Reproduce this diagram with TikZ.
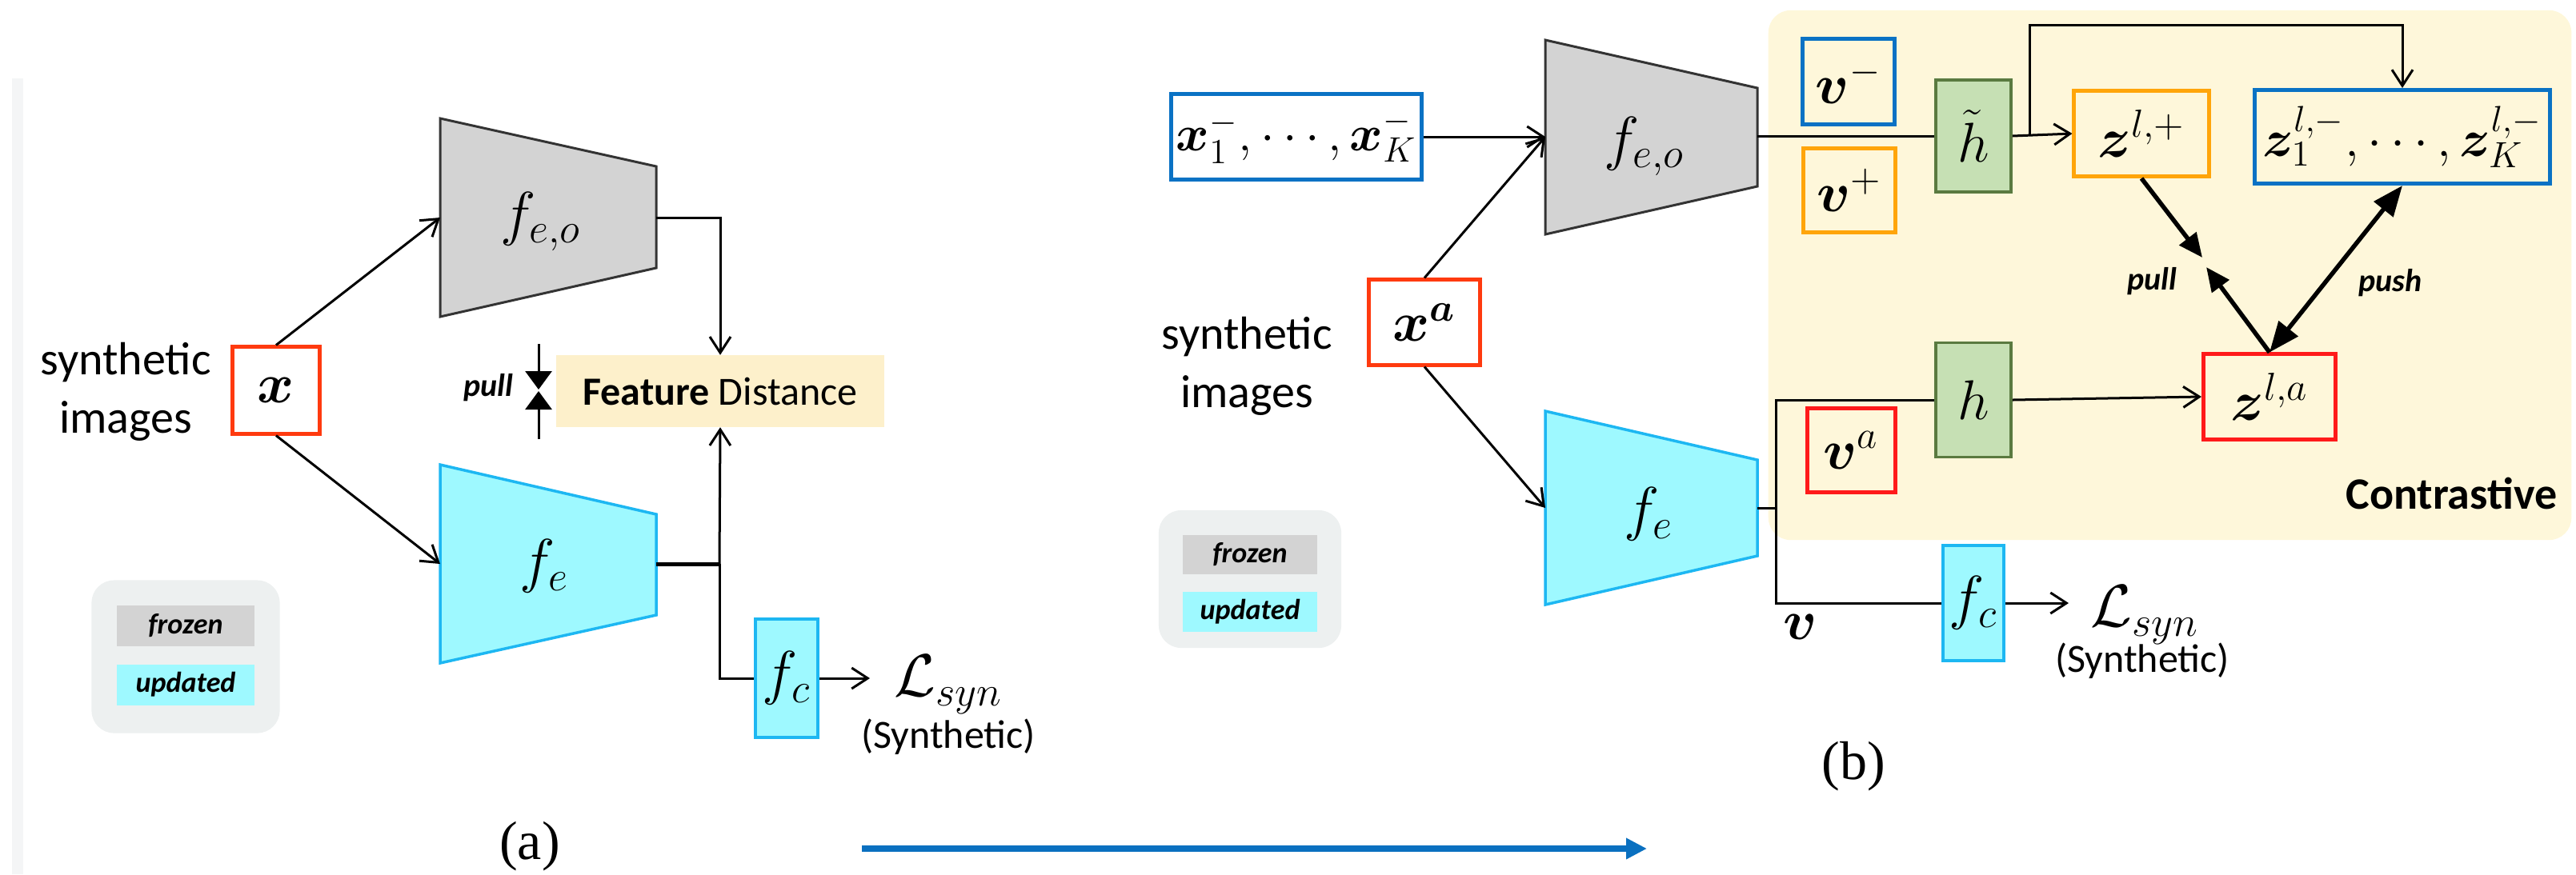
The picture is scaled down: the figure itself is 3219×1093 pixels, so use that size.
\RequirePackage{fix-cm}
\documentclass[tikz,border=0pt]{standalone}
\usepackage{bm}
\usepackage[no-math]{fontspec}
\setmainfont{Carlito}
\newfontfamily\capfont{Liberation Serif}
\usetikzlibrary{arrows.meta}
\definecolor{frozengray}{HTML}{D3D3D3}
\definecolor{trapedge}{HTML}{333333}
\definecolor{cyanfill}{HTML}{9EF9FF}
\definecolor{cyanedge}{HTML}{1DB7F2}
\definecolor{redorange}{HTML}{FF3A0F}
\definecolor{purered}{HTML}{FF1A1A}
\definecolor{boxblue}{HTML}{0A72C4}
\definecolor{boxorange}{HTML}{FFA50A}
\definecolor{greenfill}{HTML}{C6E0B4}
\definecolor{greenedge}{HTML}{5A7A40}
\definecolor{contrbg}{HTML}{FEF7DA}
\definecolor{fdbg}{HTML}{FDF0CB}
\definecolor{legbg}{HTML}{EDF0F0}
\definecolor{arrowblue}{HTML}{0A70C0}
\definecolor{faintline}{HTML}{F4F5F6}
\tikzset{
  mathlbl/.style={inner sep=0pt, font=\fontsize{0.75cm}{0.9cm}\selectfont},
  boxtxt/.style={inner sep=0pt, font=\fontsize{0.7cm}{0.85cm}\selectfont},
  colbox/.style={draw=#1, line width=0.05cm, inner sep=0pt, boxtxt},
  greenbox/.style={draw=greenedge, fill=greenfill, line width=0.035cm, inner sep=0pt, minimum width=0.94cm, boxtxt},
  cyanbox/.style={draw=cyanedge, fill=cyanfill, line width=0.04cm, inner sep=0pt, mathlbl},
  trapgray/.style={fill=frozengray, draw=trapedge, line width=0.03cm},
  trapcyan/.style={fill=cyanfill, draw=cyanedge, line width=0.035cm},
  conn/.style={line width=0.03cm},
  thinarr/.style={line width=0.03cm, -{Straight Barb[length=0.2cm,width=0.26cm]}},
  pullarr/.style={line width=0.055cm, -{Triangle[length=0.3cm,width=0.26cm]}},
  pusharr/.style={line width=0.055cm, {Triangle[length=0.38cm,width=0.3cm]}-{Triangle[length=0.38cm,width=0.3cm]}},
  smallpull/.style={line width=0.03cm, -{Triangle[length=0.23cm,width=0.33cm]}},
  sanstxt/.style={inner sep=0pt, align=center, font=\fontsize{0.58cm}{0.73cm}\selectfont},
  labtxt/.style={inner sep=0pt, font=\fontsize{0.4cm}{0.5cm}\selectfont\bfseries\itshape},
  legbox/.style={fill=legbg, rounded corners=0.28cm, inner sep=0pt},
  legitem/.style={fill=#1, inner sep=0pt, minimum width=1.72cm, minimum height=0.51cm, font=\fontsize{0.36cm}{0.44cm}\selectfont\bfseries\itshape},
  captxt/.style={inner sep=0pt, font=\fontsize{0.68cm}{0.8cm}\selectfont\capfont},
  syntxt/.style={inner sep=0pt, font=\fontsize{0.5cm}{0.6cm}\selectfont},
}
\begin{document}
\begin{tikzpicture}[x=0.01cm,y=-0.01cm]
\useasboundingbox (0,0) rectangle (3219,1093);
\fill[faintline] (15,98) rectangle (29,1093);

% ================= Panel (a) =================
\node[legbox, minimum width=2.35cm, minimum height=1.91cm] (legA) at (232,821) {};
\node[legitem=frozengray] (frzA) at (232,782) {frozen};
\node[legitem=cyanfill] (updA) at (232,856) {updated};

\draw[trapgray] (550,148) -- (820,208) -- (820,335) -- (550,396) -- cycle;
\node[mathlbl] (feoA) at (676,277) {$f_{e,o}$};
\coordinate (feoAin) at (550,272);
\coordinate (feoAout) at (820,272);

\draw[trapcyan] (550,581) -- (820,643) -- (820,769) -- (550,829) -- cycle;
\node[mathlbl] (feA) at (680,708) {$f_e$};
\coordinate (feAin) at (550,705);
\coordinate (feAout) at (820,705);

\node[colbox=redorange, minimum width=1.08cm, minimum height=1.08cm] (xA) at (345,488) {$\bm{x}$};
\node[sanstxt] (synA) at (157,490) {synthetic\\images};

\draw[thinarr] (xA.north) -- (feoAin);
\draw[thinarr] (xA.south) -- (feAin);

\node[fill=fdbg, inner sep=0pt, minimum width=4.09cm, minimum height=0.89cm,
      font=\fontsize{0.5cm}{0.6cm}\selectfont] (fdA) at (900,489) {\textbf{Feature} Distance};
\draw[thinarr] (feoAout) -| (fdA.north);

\coordinate (jA) at (899,705);
\draw[line width=0.05cm] (feAout) -- (jA);
\draw[thinarr] (jA) -- (fdA.south);

\node[cyanbox, minimum width=0.78cm, minimum height=1.47cm] (fcA) at (983,848) {$f_c$};
\draw[conn] (jA) |- (fcA.west);
\coordinate (LAtip) at (1087,848);
\draw[thinarr] (fcA.east) -- (LAtip);
\node[mathlbl] (LA) at (1185,856) {$\mathcal{L}_{syn}$};
\node[syntxt] (synthA) at (1185,921) {(Synthetic)};

\coordinate (pTa) at (673,430);
\coordinate (pTb) at (673,487);
\coordinate (pBa) at (673,549);
\coordinate (pBb) at (673,489);
\draw[smallpull] (pTa) -- (pTb);
\draw[smallpull] (pBa) -- (pBb);
\node[labtxt] (pullA) at (610,485) {pull};

\node[captxt] (capA) at (662,1058) {(a)};

\coordinate (bluS) at (1077,1061);
\coordinate (bluE) at (2058,1061);
\draw[arrowblue, line width=0.08cm, -{Triangle[length=0.26cm,width=0.25cm]}] (bluS) -- (bluE);

% ================= Panel (b) =================
\node[fill=contrbg, rounded corners=0.28cm, inner sep=0pt, minimum width=10.03cm, minimum height=6.62cm] (contr) at (2711.5,344) {};
\node[inner sep=0pt, anchor=east, font=\fontsize{0.56cm}{0.7cm}\selectfont\bfseries] (contrtxt) at (3196,617) {Contrastive};

\node[legbox, minimum width=2.28cm, minimum height=1.72cm] (legB) at (1562,724) {};
\node[legitem=frozengray, minimum width=1.68cm, minimum height=0.49cm] (frzB) at (1562,693) {frozen};
\node[legitem=cyanfill, minimum width=1.68cm, minimum height=0.5cm] (updB) at (1562,765) {updated};

\draw[trapgray] (1931,50) -- (2196,110) -- (2196,233) -- (1931,293) -- cycle;
\node[mathlbl] (feoB) at (2055,183) {$f_{e,o}$};
\coordinate (feoBin) at (1931,171);
\coordinate (feoBout) at (2196,170);

\draw[trapcyan] (1931,514) -- (2196,575) -- (2196,695) -- (1931,756) -- cycle;
\node[mathlbl] (feB) at (2060,643) {$f_e$};
\coordinate (feBin) at (1931,635);
\coordinate (feBout) at (2196,635);

\node[colbox=boxblue, minimum width=3.13cm, minimum height=1.06cm, font=\fontsize{0.63cm}{0.75cm}\selectfont] (xnB) at (1620,171) {$\bm{x}_1^-, \cdots, \bm{x}_K^-$};
\node[colbox=redorange, minimum width=1.39cm, minimum height=1.06cm] (xaB) at (1780,403) {$\bm{x^a}$};
\node[sanstxt] (synB) at (1558,458) {synthetic\\images};

\draw[thinarr] (xnB.east) -- (feoBin);
\draw[thinarr] (xaB.north) -- (feoBin);
\draw[thinarr] (xaB.south) -- (feBin);

\node[colbox=boxblue, minimum width=1.15cm, minimum height=1.06cm] (vmB) at (2310,102) {$\bm{v}^-$};
\node[colbox=boxorange, minimum width=1.15cm, minimum height=1.05cm] (vpB) at (2311,238) {$\bm{v}^+$};
\node[greenbox, minimum height=1.4cm] (htB) at (2466,170) {$\tilde{h}$};
\node[colbox=boxorange, minimum width=1.68cm, minimum height=1.07cm] (zpB) at (2676,167) {$\bm{z}^{l,+}$};
\node[colbox=boxblue, minimum width=3.68cm, minimum height=1.17cm, font=\fontsize{0.65cm}{0.8cm}\selectfont] (znB) at (3002,171) {$\bm{z}_1^{l,-}, \cdots, \bm{z}_K^{l,-}$};

\draw[conn] (feoBout) -- (htB.west);
\draw[thinarr] (htB.east) -- (zpB.west);
\coordinate (brB) at (2536,169);
\coordinate (topB) at (2536,31);
\draw[thinarr] (brB) -- (topB) -| (znB.north);

\node[greenbox, minimum height=1.43cm] (hB) at (2466,500) {$h$};
\node[colbox=purered, minimum width=1.1cm, minimum height=1.05cm] (vaB) at (2313,563) {$\bm{v}^a$};
\node[colbox=purered, minimum width=1.65cm, minimum height=1.06cm] (zaB) at (2836,496) {$\bm{z}^{l,a}$};

\coordinate (jB) at (2219,635);
\draw[conn] (feBout) -- (jB);
\draw[conn] (jB) |- (hB.west);
\draw[thinarr] (hB.east) -- (zaB.west);

\node[cyanbox, minimum width=0.76cm, minimum height=1.43cm] (fcB) at (2466,754) {$f_c$};
\draw[conn] (jB) |- (fcB.west);
\coordinate (LBtip) at (2585,754);
\draw[thinarr] (fcB.east) -- (LBtip);
\node[mathlbl] (LB) at (2680,769) {$\mathcal{L}_{syn}$};
\node[syntxt] (synthB) at (2677,826) {(Synthetic)};
\node[boxtxt] (vB) at (2250,784) {$\bm{v}$};

\coordinate (pullT1) at (2752,322);
\coordinate (pullT2) at (2757,334);
\draw[pullarr] (zpB.south) -- (pullT1);
\draw[pullarr] (zaB.north) -- (pullT2);
\draw[pusharr] (zaB.north) -- (znB.south);
\node[labtxt] (pullB) at (2689,352) {pull};
\node[labtxt] (pushB) at (2987,354) {push};

\node[captxt] (capB) at (2316,958) {(b)};
\end{tikzpicture}
\end{document}
